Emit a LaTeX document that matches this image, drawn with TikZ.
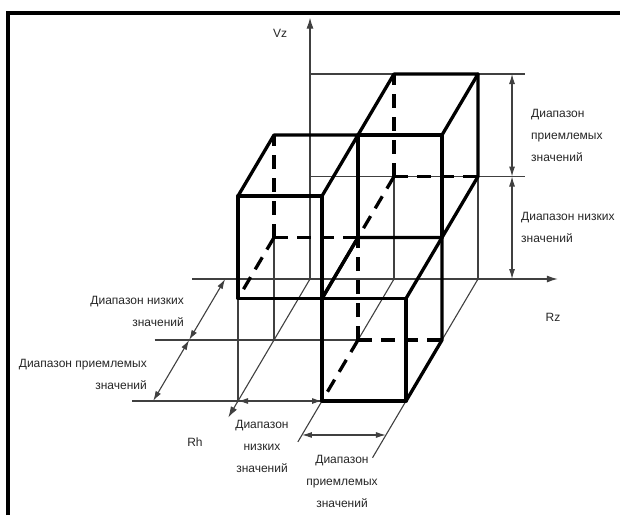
\documentclass[tikz,border=0pt]{standalone}
\usepackage{fontspec}
\setmainfont{Liberation Sans}
\usetikzlibrary{arrows.meta}

\begin{document}
\begin{tikzpicture}[x=1pt,y=-1pt,
  grid/.style={line width=1.1pt,black!75},
  box/.style={line width=3.3pt,line cap=round,line join=round},
  hidden/.style={line width=3.3pt,dash pattern=on 14pt off 9pt},
  axis/.style={grid,-{Latex[length=11pt,width=7pt]}},
  dim/.style={grid,{Latex[length=10pt,width=6pt]}-{Latex[length=10pt,width=6pt]}},
  lbl/.style={font=\fontsize{12}{22}\selectfont,text=black!85,inner sep=0pt}]

  \useasboundingbox (0,0) rectangle (620,515);

  % frame
  \draw[line width=3.2pt] (8,515) -- (8,13) -- (620,13);

  % oblique axes: x = Rz, y = Vz, z = Rh
  \begin{scope}[shift={(310pt,-279pt)},x={(84pt,0pt)},y={(0pt,102.5pt)},z={(-36pt,-61pt)}]

    % axes
    \draw[axis] (0,0,0) -- (0,2.55,0);
    \draw[axis] (-1.4,0,0) -- (2.95,0,0);
    \draw[axis] (0,0,0) -- (0,0,2.27);

    % level lines
    \draw[grid] (0,2,0) -- (2.56,2,0);
    \draw[grid] (0,1,0) -- (2.56,1,0);
    \draw[grid] (-1.42,0,1) -- (1,0,1);
    \draw[grid] (-1.26,0,2) -- (1,0,2);
    \draw[grid] (0,0,2) -- (0,1,2);
    \draw[grid] (0,0,1) -- (0,1,1);
    \draw[grid] (1,0,0) -- (1,1,0);
    \draw[grid] (2,0,0) -- (2,1,0);
    \draw[grid] (1,0,0) -- (1,0,1);
    \draw[grid] (2,0,0) -- (2,0,1);
    \draw[grid] (1,0,2) -- (1,0,2.67);
    \draw[grid] (2,0,2) -- (2,0,2.93);

    % ranges
    \draw[dim] (2.405,0,0) -- (2.405,1,0);
    \draw[dim] (2.405,1,0) -- (2.405,2,0);
    \draw[dim] (-1.01,0,0) -- (-1.01,0,1);
    \draw[dim] (-1.01,0,1) -- (-1.01,0,2);
    \draw[dim] (0,0,2) -- (1,0,2);
    \draw[dim] (1,0,2.557) -- (2,0,2.557);

    % boxes, given by their lower back left corner
    \foreach \c in {{(0,1,1)}, {(1,1,0)}, {(1,0,1)}} {
      \draw[hidden] \c -- ++(1,0,0);
      \draw[hidden] \c -- ++(0,1,0);
      \draw[hidden] \c -- ++(0,0,1);
    }
    \foreach \c in {{(0,1,1)}, {(1,1,0)}, {(1,0,1)}} {
      \draw[box] \c ++(0,0,1) rectangle ++(1,1,0);
      \draw[box] \c ++(0,1,1) -- ++(0,0,-1) -- ++(1,0,0) -- ++(0,0,1);
      \draw[box] \c ++(1,1,0) -- ++(0,-1,0) -- ++(0,0,1);
    }
  \end{scope}

  % labels
  \node[lbl] (Vz) at (280,33) {Vz};
  \node[lbl] (Rz) at (553,317) {Rz};
  \node[lbl] (Rh) at (195,442) {Rh};
  \node[lbl,align=left,anchor=west] (accVz) at (531,135) {Диапазон\\приемлемых\\значений};
  \node[lbl,align=left,anchor=west] (lowVz) at (521,227) {Диапазон низких\\значений};
  \node[lbl,align=right,anchor=east] (lowRh) at (184,311) {Диапазон низких\\значений};
  \node[lbl,align=right,anchor=east] (accRh) at (147,374) {Диапазон приемлемых\\значений};
  \node[lbl,align=center] (lowRz) at (262,446) {Диапазон\\низких\\значений};
  \node[lbl,align=center] (accRz) at (342,481) {Диапазон\\приемлемых\\значений};
\end{tikzpicture}
\end{document}
